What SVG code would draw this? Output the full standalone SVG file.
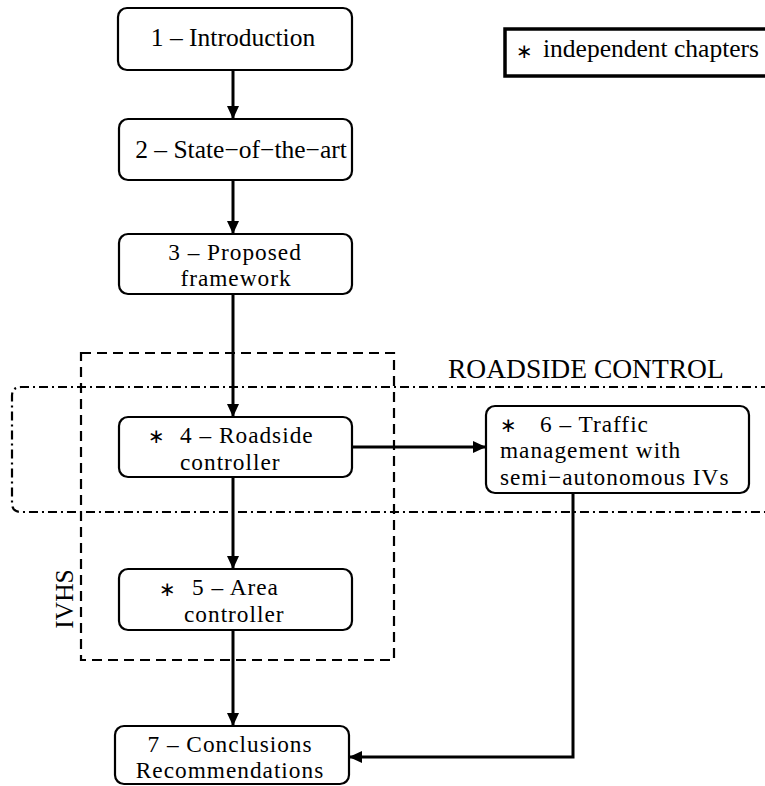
<svg xmlns="http://www.w3.org/2000/svg" width="765" height="786" viewBox="0 0 765 786">
  <defs>
    <marker id="head" markerUnits="userSpaceOnUse" markerWidth="14" markerHeight="12" refX="13" refY="6" orient="auto">
      <path d="M0,0 L13,6 L0,12 Z" fill="#000"/>
    </marker>
    <style>
      .box { fill: #fff; stroke: #000; stroke-width: 2.2; }
      .txt { font-family: "Liberation Serif", "Times New Roman", serif; font-size: 25.5px; fill: #000; }
      .ml { font-size: 23.3px; letter-spacing: 1px; }
      .ast { font-family: "DejaVu Sans", sans-serif; font-size: 20px; letter-spacing: 0; }
      .edge { fill: none; stroke: #000; stroke-width: 3; }
      .dash { fill: none; stroke: #000; stroke-width: 2.2; stroke-dasharray: 10 6; }
      .dashdot { fill: none; stroke: #000; stroke-width: 2.2; stroke-dasharray: 9 4 2 4; }
    </style>
  </defs>

  <rect width="765" height="786" fill="#fff"/>

  <!-- grouping frames -->
  <g id="groups">
    <rect class="dash" x="81" y="353" width="313" height="307"/>
    <path class="dashdot" d="M770,387 H21 Q12,387 12,396 V503 Q12,512 21,512 H770"/>
    <text class="txt" x="448" y="378" style="font-size:27.5px">ROADSIDE CONTROL</text>
    <text class="txt" transform="translate(73,599) rotate(-90)" text-anchor="middle">IVHS</text>
  </g>

  <!-- connectors -->
  <g id="connectors">
    <line class="edge" x1="233" y1="70" x2="233" y2="119" marker-end="url(#head)"/>
    <line class="edge" x1="233" y1="180" x2="233" y2="234" marker-end="url(#head)"/>
    <line class="edge" x1="233" y1="294" x2="233" y2="417" marker-end="url(#head)"/>
    <line class="edge" x1="233" y1="477" x2="233" y2="569" marker-end="url(#head)"/>
    <line class="edge" x1="233" y1="630" x2="233" y2="726" marker-end="url(#head)"/>
    <line class="edge" x1="352" y1="447" x2="486" y2="447" marker-end="url(#head)"/>
    <path class="edge" d="M573,493 V757 H349" marker-end="url(#head)"/>
  </g>

  <g id="legend">
    <rect x="505" y="29" width="270" height="47" fill="#fff" stroke="#000" stroke-width="3.5"/>
    <text class="txt"><tspan class="ast" x="516" y="58">∗</tspan><tspan x="543" y="57">independent chapters</tspan></text>
  </g>

  <g id="ch1">
    <rect class="box" x="118" y="8" width="234" height="62" rx="9"/>
    <text class="txt" x="233" y="46" text-anchor="middle">1 – Introduction</text>
  </g>

  <g id="ch2">
    <rect class="box" x="119" y="119" width="233" height="61" rx="9"/>
    <text class="txt" x="241" y="158" text-anchor="middle">2 – State−of−the−art</text>
  </g>

  <g id="ch3">
    <rect class="box" x="119" y="234" width="233" height="60" rx="9"/>
    <text class="txt ml" text-anchor="middle"><tspan x="235" y="260">3 – Proposed</tspan><tspan x="236" y="286">framework</tspan></text>
  </g>

  <g id="ch4">
    <rect class="box" x="119" y="417" width="233" height="60" rx="9"/>
    <text class="txt ml"><tspan class="ast" x="148" y="443">∗</tspan><tspan x="180" y="443">4 – Roadside</tspan><tspan x="180" y="470">controller</tspan></text>
  </g>

  <g id="ch5">
    <rect class="box" x="119" y="569" width="233" height="61" rx="9"/>
    <text class="txt ml"><tspan class="ast" x="159" y="596">∗</tspan><tspan x="192" y="595">5 – Area</tspan><tspan x="184" y="622">controller</tspan></text>
  </g>

  <g id="ch6">
    <rect class="box" x="486" y="406" width="263" height="87" rx="9"/>
    <text class="txt ml"><tspan class="ast" x="500" y="432">∗</tspan><tspan x="540" y="432">6 – Traffic</tspan><tspan x="500" y="458">management with</tspan><tspan x="500" y="485">semi−autonomous IVs</tspan></text>
  </g>

  <g id="ch7">
    <rect class="box" x="115" y="726" width="234" height="58" rx="9"/>
    <text class="txt ml" text-anchor="middle"><tspan x="230" y="752">7 – Conclusions</tspan><tspan x="230" y="778">Recommendations</tspan></text>
  </g>
</svg>
